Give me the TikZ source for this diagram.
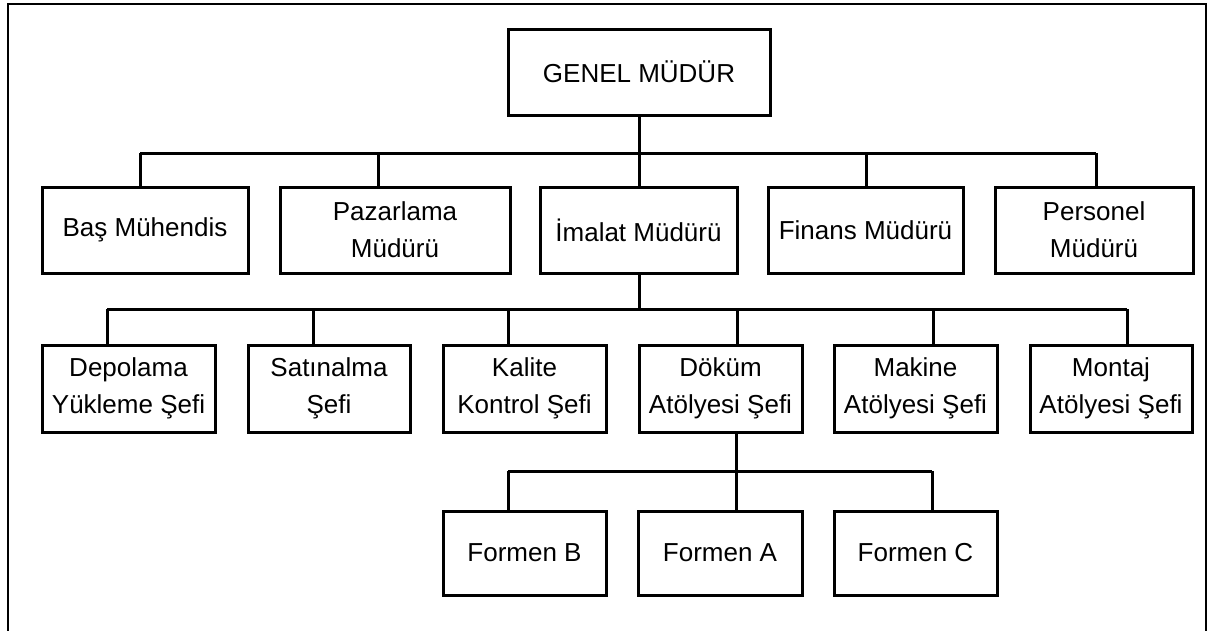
\documentclass[tikz,border=0pt]{standalone}
\usepackage{fontspec}
\setmainfont{Liberation Sans}
\begin{document}
\begin{tikzpicture}[x=1pt,y=-1pt,
  box/.style={draw, line width=3pt, inner sep=0pt, align=center,
    font=\fontsize{26}{37}\selectfont},
  conn/.style={line width=3pt},
  frame/.style={line width=2.5pt}]
\useasboundingbox (0,0) rectangle (1208,630);
% outer frame (open at the bottom)
\coordinate (fbl) at (8,632);
\coordinate (ftl) at (8,4);
\coordinate (ftr) at (1206,4);
\coordinate (fbr) at (1206,632);
\draw[frame] (fbl) -- (ftl) -- (ftr) -- (fbr);
% top
\node[box, minimum width=262pt, minimum height=86pt] (gm) at (639,72) {GENEL MÜDÜR};
% row 1
\node[box, minimum width=206pt, minimum height=86pt] (bas) at (145,230) {Baş Mühendis};
\node[box, minimum width=230pt, minimum height=86pt] (paz) at (395,230) {Pazarlama\\Müdürü};
\node[box, minimum width=197pt, minimum height=86pt] (ima) at (638.5,230) {İmalat Müdürü};
\node[box, minimum width=195pt, minimum height=86pt] (fin) at (865.5,230) {Finans Müdürü};
\node[box, minimum width=198pt, minimum height=86pt] (per) at (1094,230) {Personel\\Müdürü};
% row 2
\node[box, minimum width=173pt, minimum height=87pt] (dep) at (128.5,388.5) {Depolama\\Yükleme Şefi};
\node[box, minimum width=162pt, minimum height=87pt] (sat) at (329,388.5) {Satınalma\\Şefi};
\node[box, minimum width=163pt, minimum height=87pt] (kal) at (524.5,388.5) {Kalite\\Kontrol Şefi};
\node[box, minimum width=163pt, minimum height=87pt] (dok) at (720.5,388.5) {Döküm\\Atölyesi Şefi};
\node[box, minimum width=163pt, minimum height=87pt] (mak) at (915.5,388.5) {Makine\\Atölyesi Şefi};
\node[box, minimum width=162pt, minimum height=87pt] (mon) at (1111,388.5) {Montaj\\Atölyesi Şefi};
% row 3
\node[box, minimum width=163pt, minimum height=84pt] (fb) at (524.5,553) {Formen B};
\node[box, minimum width=164pt, minimum height=84pt] (fa) at (720,553) {Formen A};
\node[box, minimum width=163pt, minimum height=84pt] (fc) at (915.5,553) {Formen C};
% bar 1
\coordinate (c1) at (140,153);
\coordinate (c2) at (378,153);
\coordinate (c3) at (639,153);
\coordinate (c4) at (866,153);
\coordinate (c5) at (1096,153);
\draw[conn] (gm.south) -- (c3);
\draw[conn] (c1) -- (c5);
\draw[conn] (c1) -- (c1 |- bas.north);
\draw[conn] (c2) -- (c2 |- paz.north);
\draw[conn] (c3) -- (c3 |- ima.north);
\draw[conn] (c4) -- (c4 |- fin.north);
\draw[conn] (c5) -- (c5 |- per.north);
% bar 2
\coordinate (d1) at (107,309);
\coordinate (d2) at (313,309);
\coordinate (d3) at (508,309);
\coordinate (d4) at (737,309);
\coordinate (d5) at (933,309);
\coordinate (d6) at (1127,309);
\coordinate (d0) at (639,309);
\draw[conn] (d0 |- ima.south) -- (d0);
\draw[conn] (d1) -- (d6);
\draw[conn] (d1) -- (d1 |- dep.north);
\draw[conn] (d2) -- (d2 |- sat.north);
\draw[conn] (d3) -- (d3 |- kal.north);
\draw[conn] (d4) -- (d4 |- dok.north);
\draw[conn] (d5) -- (d5 |- mak.north);
\draw[conn] (d6) -- (d6 |- mon.north);
% bar 3
\coordinate (e1) at (508,471);
\coordinate (e2) at (736,471);
\coordinate (e3) at (932,471);
\draw[conn] (e1) -- (e3);
\draw[conn] (e2 |- dok.south) -- (e2 |- fa.north);
\draw[conn] (e1) -- (e1 |- fb.north);
\draw[conn] (e3) -- (e3 |- fc.north);
\end{tikzpicture}
\end{document}
